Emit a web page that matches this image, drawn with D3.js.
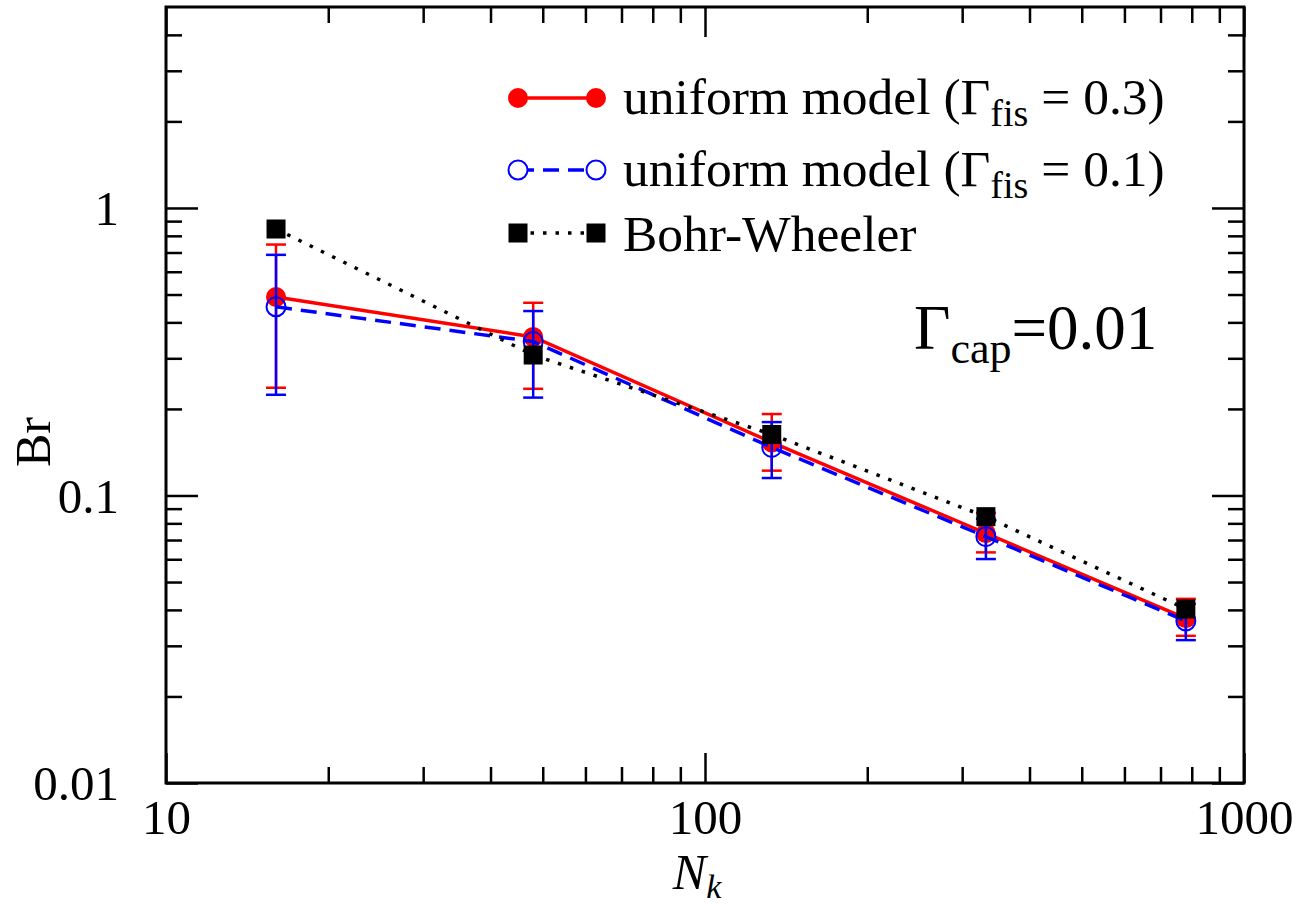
<!DOCTYPE html>
<html><head><meta charset="utf-8">
<script src="https://cdn.jsdelivr.net/npm/d3@7"></script>
<style>
body{margin:0;background:#fff;}
text{font-family:"Liberation Serif","Times New Roman",serif;fill:#000;}
</style></head>
<body><svg id="c" width="1299" height="908"></svg>
<script>
// ---- data ----
const nk = [16, 48, 133, 332, 780];
const redVal = [0.49, 0.356, 0.153, 0.0739, 0.0374];
const redLo  = [0.237, 0.235, 0.122, 0.0634, 0.0325];
const redHi  = [0.746, 0.468, 0.192, 0.087, 0.0437];
const blueVal = [0.453, 0.343, 0.147, 0.0719, 0.0366];
const blueLo  = [0.224, 0.219, 0.115, 0.0601, 0.0314];
const blueHi  = [0.687, 0.438, 0.180, 0.083, 0.042];
const bwVal = [0.845, 0.308, 0.163, 0.0844, 0.0403];
const xMajor = [10, 100, 1000];
const xMinor = [20,30,40,50,60,70,80,90,200,300,400,500,600,700,800,900];
const yMajor = [0.01, 0.1, 1];
const yMinor = [0.02,0.03,0.04,0.05,0.06,0.07,0.08,0.09,0.2,0.3,0.4,0.5,0.6,0.7,0.8,0.9,2,3,4];
const yLabels = ["0.01","0.1","1"];
const xLabels = ["10","100","1000"];

const L=166, R=1244, T=7, B=783;
const svg = d3.select("#c");
const x = d3.scaleLog().domain([10,1000]).range([L,R]);
const y = d3.scaleLog().domain([0.01,5]).range([B,T]);

function styleAxis(g){ g.select(".domain").remove(); g.selectAll("line").attr("stroke","#000").attr("stroke-width",2.5); }
const fs = 49;
// bottom
svg.append("g").attr("transform",`translate(0,${B})`)
  .call(d3.axisBottom(x).tickValues(xMajor).tickSize(-30).tickFormat((d,i)=>xLabels[i]).tickPadding(16))
  .call(styleAxis).call(g=>g.selectAll("text").attr("font-size",fs).attr("font-family","Liberation Serif").attr("dy","0.71em"));
svg.append("g").attr("transform",`translate(0,${B})`)
  .call(d3.axisBottom(x).tickValues(xMinor).tickSize(-16).tickFormat("")).call(styleAxis);
// top
svg.append("g").attr("transform",`translate(0,${T})`)
  .call(d3.axisTop(x).tickValues(xMajor).tickSize(-30).tickFormat("")).call(styleAxis);
svg.append("g").attr("transform",`translate(0,${T})`)
  .call(d3.axisTop(x).tickValues(xMinor).tickSize(-16).tickFormat("")).call(styleAxis);
// left
svg.append("g").attr("transform",`translate(${L},0)`)
  .call(d3.axisLeft(y).tickValues(yMajor).tickSize(-32).tickFormat((d,i)=>yLabels[i]).tickPadding(47))
  .call(styleAxis).call(g=>g.selectAll("text").attr("font-size",fs).attr("font-family","Liberation Serif").attr("dy","0.34em"));
svg.append("g").attr("transform",`translate(${L},0)`)
  .call(d3.axisLeft(y).tickValues(yMinor).tickSize(-16).tickFormat("")).call(styleAxis);
// right
svg.append("g").attr("transform",`translate(${R},0)`)
  .call(d3.axisRight(y).tickValues(yMajor).tickSize(-32).tickFormat("")).call(styleAxis);
svg.append("g").attr("transform",`translate(${R},0)`)
  .call(d3.axisRight(y).tickValues(yMinor).tickSize(-16).tickFormat("")).call(styleAxis);
// frame
svg.append("rect").attr("x",L).attr("y",T).attr("width",R-L).attr("height",B-T)
  .attr("fill","none").attr("stroke","#000").attr("stroke-width",3);

const line = d3.line().x(d=>x(d[0])).y(d=>y(d[1]));
const capW = 10;
function errbars(vals, lo, hi, color){
  const g = svg.append("g").attr("stroke",color).attr("stroke-width",2.5);
  nk.forEach((n,i)=>{
    const cx=x(n);
    g.append("line").attr("x1",cx).attr("x2",cx).attr("y1",y(lo[i])).attr("y2",y(hi[i]));
    g.append("line").attr("x1",cx-capW).attr("x2",cx+capW).attr("y1",y(lo[i])).attr("y2",y(lo[i]));
    g.append("line").attr("x1",cx-capW).attr("x2",cx+capW).attr("y1",y(hi[i])).attr("y2",y(hi[i]));
  });
}
// red series
svg.append("path").datum(nk.map((n,i)=>[n,redVal[i]])).attr("d",line)
  .attr("fill","none").attr("stroke","#ff0000").attr("stroke-width",3.5);
errbars(redVal, redLo, redHi, "#ff0000");
svg.append("g").selectAll("circle").data(nk).join("circle")
  .attr("cx",d=>x(d)).attr("cy",(d,i)=>y(redVal[i])).attr("r",10).attr("fill","#ff0000");
// blue series
svg.append("path").datum(nk.map((n,i)=>[n,blueVal[i]])).attr("d",line)
  .attr("fill","none").attr("stroke","#0000ff").attr("stroke-width",3.5).attr("stroke-dasharray","16,9");
errbars(blueVal, blueLo, blueHi, "#0000ff");
svg.append("g").selectAll("circle").data(nk).join("circle")
  .attr("cx",d=>x(d)).attr("cy",(d,i)=>y(blueVal[i])).attr("r",9.5).attr("fill","none")
  .attr("stroke","#0000ff").attr("stroke-width",2);
// Bohr-Wheeler
svg.append("path").datum(nk.map((n,i)=>[n,bwVal[i]])).attr("d",line)
  .attr("fill","none").attr("stroke","#000").attr("stroke-width",3.5).attr("stroke-dasharray","3.5,9");
svg.append("g").selectAll("rect").data(nk).join("rect")
  .attr("x",d=>x(d)-9.5).attr("y",(d,i)=>y(bwVal[i])-9.5).attr("width",19).attr("height",19).attr("fill","#000");

// legend
const lx1=518, lx2=596, tx=623;
const rows=[98,170,233];
svg.append("line").attr("x1",lx1).attr("x2",lx2).attr("y1",rows[0]).attr("y2",rows[0]).attr("stroke","#ff0000").attr("stroke-width",3.5);
[lx1,lx2].forEach(px=>svg.append("circle").attr("cx",px).attr("cy",rows[0]).attr("r",10).attr("fill","#ff0000"));
svg.append("line").attr("x1",lx1).attr("x2",lx2).attr("y1",rows[1]).attr("y2",rows[1]).attr("stroke","#0000ff").attr("stroke-width",3.5).attr("stroke-dasharray","16,9");
[lx1,lx2].forEach(px=>svg.append("circle").attr("cx",px).attr("cy",rows[1]).attr("r",9.5).attr("fill","#fff").attr("stroke","#0000ff").attr("stroke-width",2));
svg.append("line").attr("x1",lx1).attr("x2",lx2).attr("y1",rows[2]).attr("y2",rows[2]).attr("stroke","#000").attr("stroke-width",3.5).attr("stroke-dasharray","3.5,9");
[lx1,lx2].forEach(px=>svg.append("rect").attr("x",px-9.5).attr("y",rows[2]-9.5).attr("width",19).attr("height",19).attr("fill","#000"));

const lfs=51.5;
function gammaText(yb, val){
  const t=svg.append("text").attr("x",tx).attr("y",yb).attr("font-size",lfs);
  t.append("tspan").text("uniform model (Γ");
  t.append("tspan").attr("font-size",lfs*0.74).attr("dy",12).text("fis");
  t.append("tspan").attr("dy",-12).text(" = "+val+")");
}
gammaText(114,"0.3");
gammaText(186,"0.1");
svg.append("text").attr("x",tx).attr("y",251).attr("font-size",lfs).text("Bohr-Wheeler");

// Gamma_cap annotation
const ga=svg.append("text").attr("x",914).attr("y",349).attr("font-size",63);
ga.append("tspan").text("Γ");
ga.append("tspan").attr("font-size",44).attr("dy",14).text("cap");
ga.append("tspan").attr("dy",-14).text("=0.01");

// axis titles
svg.append("text").attr("transform","translate(50,442) rotate(-90)").attr("text-anchor","middle").attr("font-size",50).text("Br");
const xt=svg.append("text").attr("x",697).attr("y",889).attr("text-anchor","middle").attr("font-size",50).attr("font-style","italic");
xt.append("tspan").text("N");
xt.append("tspan").attr("font-size",34).attr("dy",9).text("k");
</script></body></html>
